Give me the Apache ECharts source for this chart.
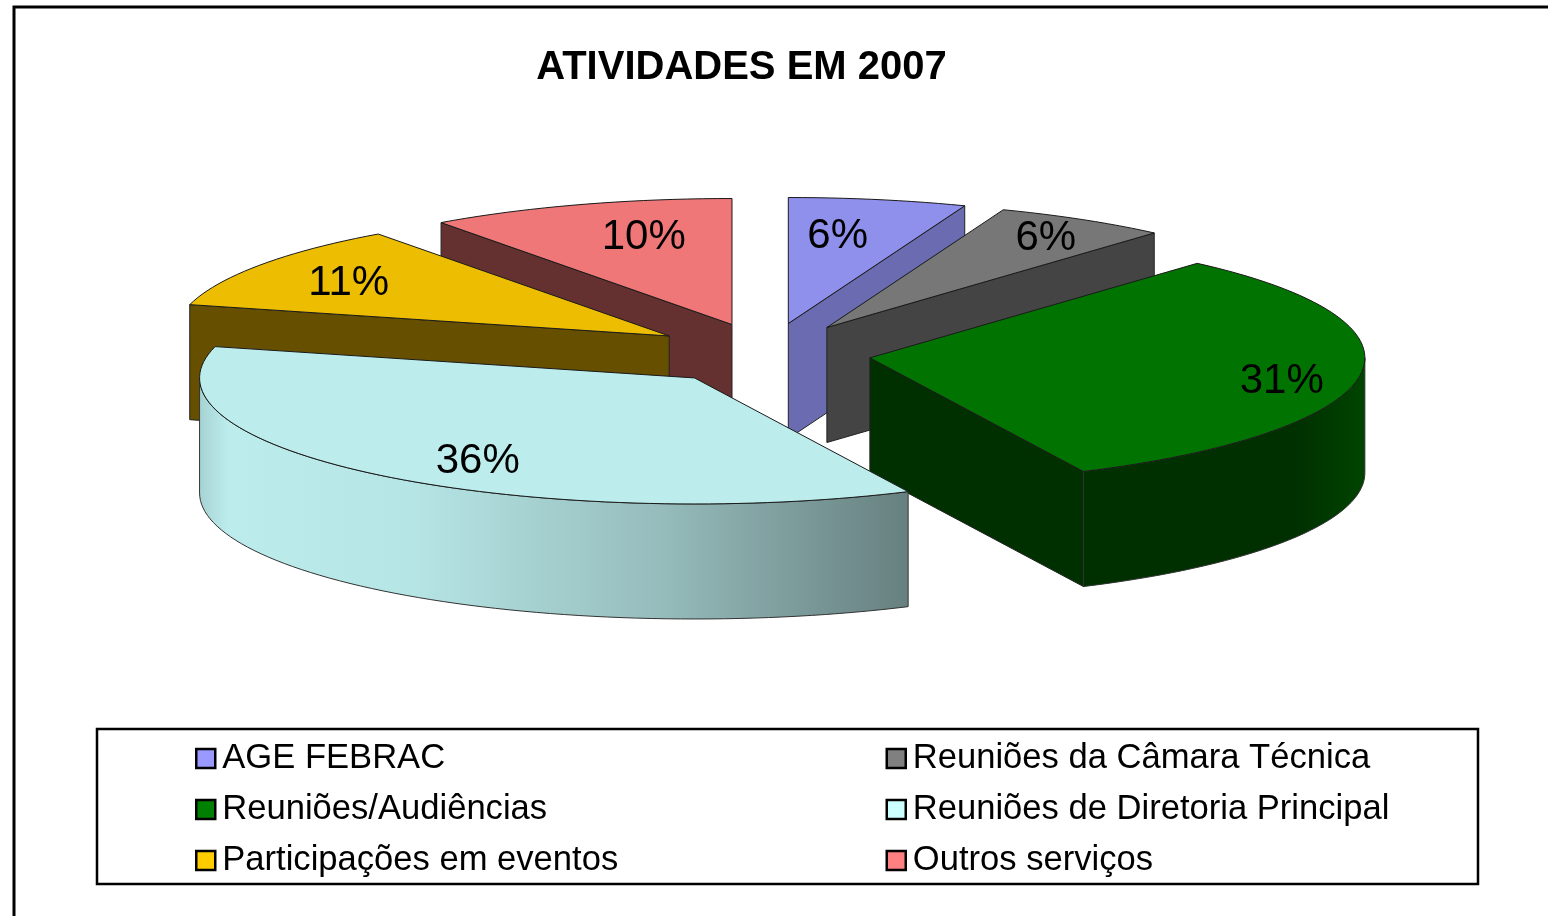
<!DOCTYPE html>
<html>
<head>
<meta charset="utf-8">
<title>ATIVIDADES EM 2007</title>
<script src="https://cdn.jsdelivr.net/npm/echarts@6/dist/echarts.min.js"></script>
<style>
  html, body { margin: 0; padding: 0; background: #fff; }
  #chart { width: 1548px; height: 916px; }
</style>
</head>
<body>
<div id="chart"></div>
<script>
// data (slice angles give the decimals, labels show them rounded)
var chartTitle = 'ATIVIDADES EM 2007';
var categories = ['AGE FEBRAC', 'Reuniões da Câmara Técnica', 'Reuniões/Audiências', 'Reuniões de Diretoria Principal', 'Participações em eventos', 'Outros serviços'];
var values = [5.8, 5.7, 31.4, 36.1, 11, 10];

// styles per slice
var legendColors = ['#9999ff', '#808080', '#008000', '#ccffff', '#ffcc00', '#ff8080'];
var topColors = ['#8f8fec', '#777777', '#007300', '#bcecec', '#ecbd00', '#ef7777'];
var sideColors = ['#6a6bb0', '#444444', '#003000', '#bcecec', '#665000', '#653030'];
var rimStops = {
  2: [[0, '#003000'], [0.75, '#003000'], [1, '#004400']],
  3: [[0, '#a6d2d2'], [0.04, '#bcecec'], [0.3, '#b6e5e5'], [0.65, '#96bcbc'], [1, '#66807f']]
};
var zOrder = [3, 4, 5, 6, 2, 1];  // painter order, back slices low
var explode = [1, 1, 0.9, 1, 1.035, 1];
var labelPlace = [[0.55, 0.72], [0.855, 0.84], [0.84, 1.24], [0.69, 0.84], [0.783, 0.77], [0.577, 0.74]];

// pie geometry in axis units (the hidden axes run from -1 to 1)
var explodeX = 0.232;
var explodeY = 0.246;
var depth = 0.913;

var total = values.reduce(function (a, b) { return a + b; }, 0);
var running = 0;
var starts = values.map(function (v) { var s = running; running += v; return s; });

function renderSlice(i) {
  return function (params, api) {
    var a0 = api.value(1) / total * Math.PI * 2;
    var a1 = (api.value(1) + api.value(0)) / total * Math.PI * 2;
    var mid = (a0 + a1) / 2;
    var cx = Math.sin(mid) * explodeX * explode[i];
    var cy = Math.cos(mid) * explodeY * explode[i];

    function rimPoint(a, drop) {
      return api.coord([cx + Math.sin(a), cy + Math.cos(a) - drop]);
    }
    function arc(from, to, drop) {
      var pts = [];
      var steps = Math.max(2, Math.ceil((to - from) / 0.03));
      for (var k = 0; k <= steps; k++) {
        pts.push(rimPoint(from + (to - from) * k / steps, drop));
      }
      return pts;
    }
    function sideWall(a) {
      return {
        type: 'polygon',
        shape: { points: [apex, rimPoint(a, 0), rimPoint(a, depth), apexLow] },
        style: { fill: sideColors[i], stroke: '#222', lineWidth: 1 }
      };
    }
    var apex = api.coord([cx, cy]);
    var apexLow = api.coord([cx, cy - depth]);
    var children = [];

    // only the cut faces turned to the viewer
    if (Math.sin(a0) < -1e-6) children.push(sideWall(a0));
    if (Math.sin(a1) > 1e-6) children.push(sideWall(a1));

    // the rim only shows on the near half of the ellipse
    var from = Math.max(a0, Math.PI / 2);
    var to = Math.min(a1, Math.PI * 1.5);
    if (to > from) {
      children.push({
        type: 'polygon',
        shape: { points: arc(from, to, 0).concat(arc(from, to, depth).reverse()) },
        style: {
          fill: new echarts.graphic.LinearGradient(0, 0, 1, 0, rimStops[i].map(function (s) {
            return { offset: s[0], color: s[1] };
          })),
          stroke: '#333',
          lineWidth: 1
        }
      });
    }

    children.push({
      type: 'polygon',
      shape: { points: [apex].concat(arc(a0, a1, 0)) },
      style: { fill: topColors[i], stroke: '#1a1a1a', lineWidth: 1 }
    });

    var labelAt = api.coord([
      cx + Math.sin(mid) * labelPlace[i][0],
      cy + Math.cos(mid) * labelPlace[i][1]
    ]);
    children.push({
      type: 'text',
      style: {
        text: Math.round(api.value(0)) + '%',
        x: labelAt[0],
        y: labelAt[1] + 2,
        fill: '#000',
        font: '42px "Liberation Sans", Arial, sans-serif',
        textAlign: 'center',
        textVerticalAlign: 'middle'
      }
    });
    return { type: 'group', children: children };
  };
}

var legendFont = { color: '#000', fontSize: 34.6, fontFamily: '"Liberation Sans", Arial, sans-serif', padding: [0, 0, 0, 2] };

function legendColumn(names, left) {
  return {
    orient: 'vertical',
    left: left,
    top: 741,
    padding: 0,
    icon: 'rect',
    itemWidth: 19,
    itemHeight: 19,
    itemGap: 16,
    selectedMode: false,
    itemStyle: { borderColor: '#000', borderWidth: 2.5 },
    textStyle: legendFont,
    data: names
  };
}

var myChart = echarts.init(document.getElementById('chart'), null, { renderer: 'canvas' });
myChart.setOption({
  animation: false,
  backgroundColor: '#fff',
  title: {
    text: chartTitle,
    left: 736.5,
    top: 43,
    textAlign: 'center',
    textStyle: { color: '#000', fontSize: 40, fontWeight: 'bold', fontFamily: '"Liberation Sans", Arial, sans-serif' }
  },
  grid: { left: 272.5, top: 228, width: 990, height: 252 },
  xAxis: { type: 'value', min: -1, max: 1, show: false },
  yAxis: { type: 'value', min: -1, max: 1, show: false },
  legend: [
    legendColumn([categories[0], categories[2], categories[4]], 195),
    legendColumn([categories[1], categories[3], categories[5]], 885.5)
  ],
  graphic: [
    { type: 'rect', z: -1, shape: { x: 14, y: 7, width: 1700, height: 1100 }, style: { fill: '#fff', stroke: '#000', lineWidth: 3 } },
    { type: 'rect', z: -1, shape: { x: 97, y: 729, width: 1381, height: 155 }, style: { fill: '#fff', stroke: '#000', lineWidth: 2.5 } }
  ],
  series: categories.map(function (name, i) {
    return {
      name: name,
      type: 'custom',
      coordinateSystem: 'cartesian2d',
      z: zOrder[i] + 2,
      itemStyle: { color: legendColors[i] },
      renderItem: renderSlice(i),
      data: [[values[i], starts[i]]]
    };
  })
});
</script>
</body>
</html>
